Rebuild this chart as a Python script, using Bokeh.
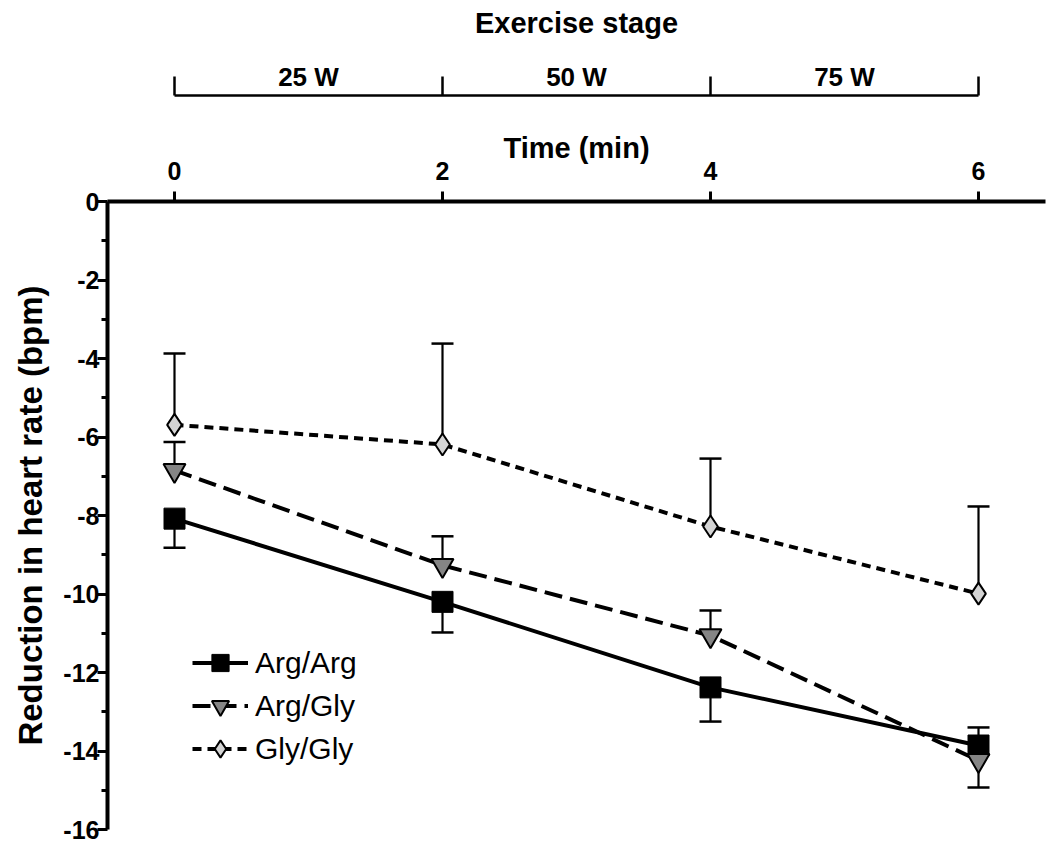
from bokeh.plotting import figure
from bokeh.models import LinearAxis, FixedTicker, Legend, LegendItem, Range1d
from bokeh.embed import file_html
from bokeh.resources import INLINE

# data
time_min = [0, 2, 4, 6]
arg_arg = [-8.08, -10.2, -12.38, -13.86]
arg_arg_err = [0.74, 0.78, 0.87, 0.46]
arg_arg_dir = [-1, -1, -1, 1]
arg_gly = [-6.85, -9.27, -11.06, -14.24]
arg_gly_err = [0.72, 0.74, 0.64, 0.69]
arg_gly_dir = [1, 1, 1, -1]
gly_gly = [-5.69, -6.19, -8.28, -9.99]
gly_gly_err = [1.82, 2.57, 1.73, 2.22]
gly_gly_dir = [1, 1, 1, 1]

stage_ticks = [1, 3, 5]
stage_labels = ["25 W", "50 W", "75 W"]
stage_bounds = [0, 2, 4, 6]
y_ticks = [0, -2, -4, -6, -8, -10, -12, -14, -16]

FONT = "Liberation Sans"

p = figure(width=1050, height=849, output_backend="svg", toolbar_location=None,
           x_range=Range1d(-0.5, 6.5), y_range=Range1d(-16, 0),
           x_axis_location="above", min_border_left=107, min_border_right=5,
           min_border_bottom=20, min_border_top=201)
p.grid.visible = False
p.outline_line_color = None
p.background_fill_color = "white"


def style_text(ax, label_size, tick_size):
    ax.axis_label_text_font = FONT
    ax.axis_label_text_font_style = "bold"
    ax.axis_label_text_font_size = label_size
    ax.axis_label_text_color = "black"
    ax.major_label_text_font = FONT
    ax.major_label_text_font_style = "bold"
    ax.major_label_text_font_size = tick_size
    ax.major_label_text_color = "black"


# time axis (top)
xa = p.xaxis[0]
xa.ticker = FixedTicker(ticks=time_min)
xa.axis_label = "Time (min)"
style_text(xa, "29px", "25px")
xa.axis_label_standoff = -5
xa.major_label_standoff = 12
xa.axis_line_width = 4
xa.major_tick_line_width = 3
xa.major_tick_out = 10
xa.major_tick_in = 0
xa.minor_tick_line_color = None

# y axis
ya = p.yaxis[0]
ya.ticker = FixedTicker(ticks=y_ticks, minor_ticks=list(range(-15, 0, 2)))
ya.major_label_overrides = {v: str(v) for v in y_ticks}
ya.axis_label = "Reduction in heart rate (bpm)"
style_text(ya, "33px", "25px")
ya.axis_label_standoff = 11
ya.major_label_standoff = -2
ya.axis_line_width = 4
ya.major_tick_line_width = 3
ya.major_tick_out = 10
ya.major_tick_in = 0
ya.minor_tick_line_width = 3
ya.minor_tick_out = 6
ya.minor_tick_in = 0

# blank spacer between the two top axes
spacer = LinearAxis(ticker=FixedTicker(ticks=[3]), major_label_overrides={3: " "},
                    axis_line_color=None, major_tick_out=0, major_tick_line_color=None,
                    minor_tick_line_color=None, major_label_standoff=8,
                    major_label_text_color="white", major_label_text_font_size="20px")
p.add_layout(spacer, "above")

# exercise stage bracket axis
stage = LinearAxis(ticker=FixedTicker(ticks=stage_ticks, minor_ticks=stage_bounds),
                   bounds=(stage_bounds[0], stage_bounds[-1]))
stage.major_label_overrides = {t: s for t, s in zip(stage_ticks, stage_labels)}
stage.axis_label = "Exercise stage"
style_text(stage, "29px", "26px")
stage.axis_label_standoff = 20
stage.major_label_standoff = -15
stage.axis_line_width = 2.5
stage.major_tick_out = 0
stage.major_tick_in = 0
stage.major_tick_line_color = None
stage.minor_tick_out = 19
stage.minor_tick_in = 0
stage.minor_tick_line_width = 2.5
p.add_layout(stage, "above")


def error_bars(y, err, d):
    ends = [v + s * e for v, e, s in zip(y, err, d)]
    p.segment(time_min, y, time_min, ends, line_color="black", line_width=2.2)
    p.scatter(time_min, ends, marker="dash", size=22, line_color="black", line_width=2.5)


error_bars(gly_gly, gly_gly_err, gly_gly_dir)
error_bars(arg_gly, arg_gly_err, arg_gly_dir)
error_bars(arg_arg, arg_arg_err, arg_arg_dir)

l1 = p.line(time_min, arg_arg, line_color="black", line_width=4)
m1 = p.scatter(time_min, arg_arg, marker="square", size=21, fill_color="black", line_color="black")
l2 = p.line(time_min, arg_gly, line_color="black", line_width=4, line_dash="18 8")
m2 = p.scatter(time_min, arg_gly, marker="inverted_triangle", size=22, fill_color="#858585",
               line_color="black", line_width=2)
l3 = p.line(time_min, gly_gly, line_color="black", line_width=4, line_dash="9 6")
m3 = p.scatter(time_min, gly_gly, marker="diamond", size=22, fill_color="#d4d4d4",
               line_color="black", line_width=2)

legend = Legend(items=[LegendItem(label="Arg/Arg", renderers=[l1, m1]),
                       LegendItem(label="Arg/Gly", renderers=[l2, m2]),
                       LegendItem(label="Gly/Gly", renderers=[l3, m3])],
                location=(85, 59), border_line_color=None, background_fill_alpha=0,
                label_text_font=FONT, label_text_font_size="30px", label_text_color="black",
                glyph_width=56, glyph_height=43, label_standoff=7, spacing=0,
                padding=0, margin=0)
p.add_layout(legend)

open("out.html", "w").write(file_html(p, INLINE))
